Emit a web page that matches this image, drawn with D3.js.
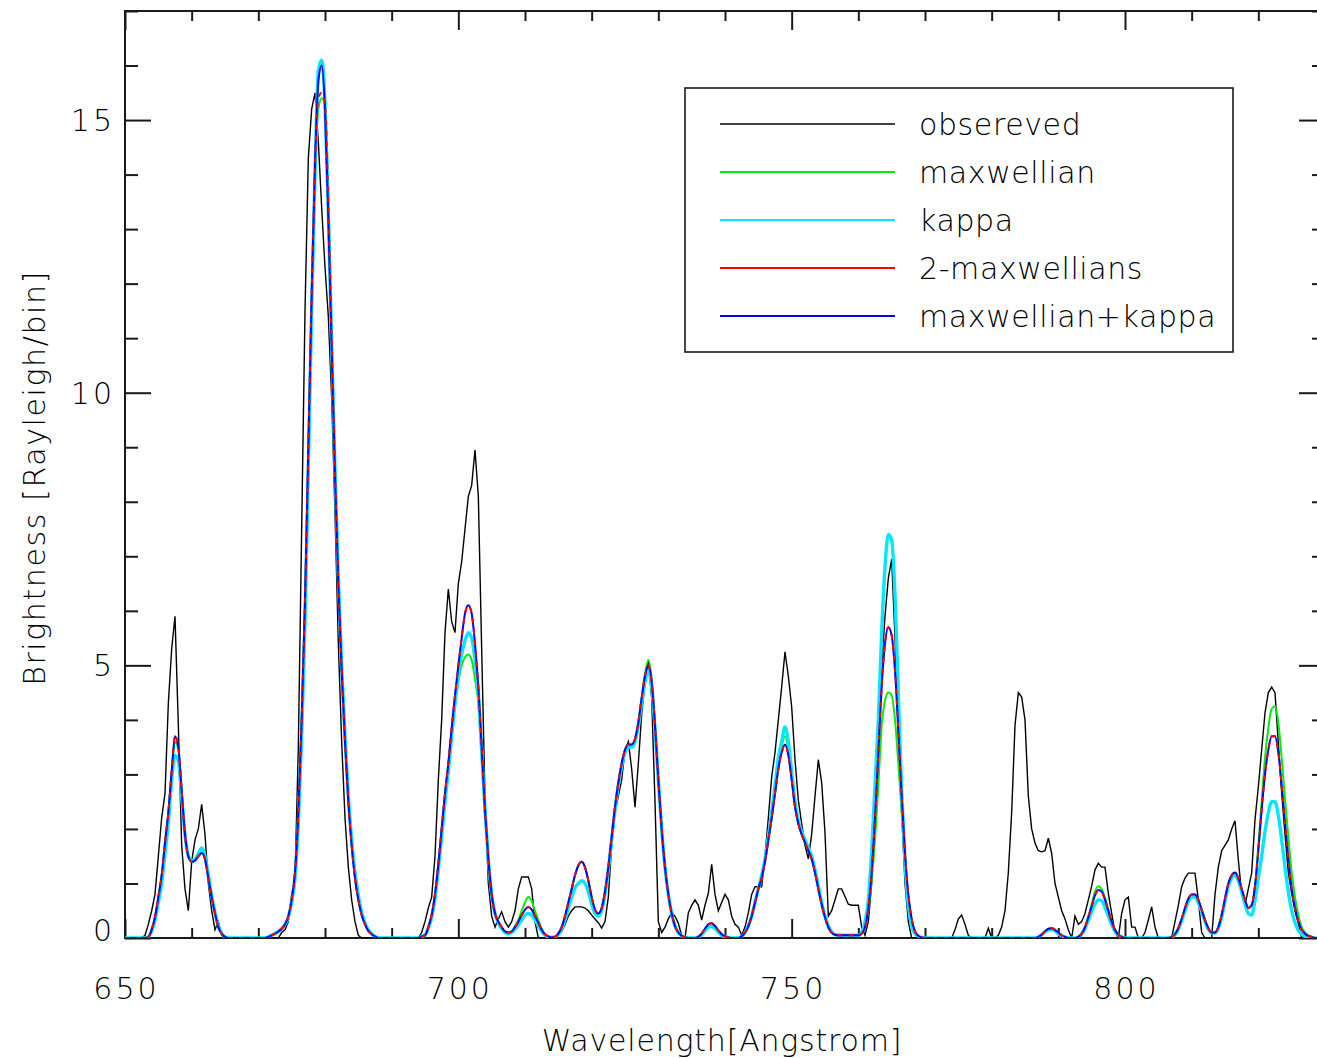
<!DOCTYPE html>
<html>
<head>
<meta charset="utf-8">
<script src="https://cdn.jsdelivr.net/npm/d3@7"></script>
<style>
  body { margin: 0; background: #fff; }
  svg { display: block; }
  text { font-family: "DejaVu Sans", sans-serif; font-weight: 200; fill: #000; }
</style>
</head>
<body>
<svg id="chart" width="1317" height="1058"></svg>
<script>
// Spectra sampled every 0.5 Angstrom from 650 to 830 Angstrom (Rayleigh/bin).
const wavelengthStart = 650;
const wavelengthStep = 0.5;

const observed = [
  0,0,0,0,0,0,0.05,0.25,0.5,0.8,1.5,2.2,2.65,4.3,5.3,5.9,3.9,1.7,0.9,0.5,
  1.4,1.8,2.0,2.45,1.9,1.0,0.5,0.15,0.3,0.05,0,0,0,0,0,0,0,0,0,0,
  0,0,0,0,0,0,0,0.1,0.15,0.3,0.8,1.1,3.5,7.5,11.5,14.3,15.2,15.5,14.6,13.4,
  12.3,11.4,9.9,7.8,5.4,3.6,2.2,1.3,0.7,0.3,0.05,0,0,0,0,0,0,0,0,0,
  0,0,0,0,0,0,0,0,0,0.1,0.3,0.55,0.75,1.5,2.9,4.0,5.6,6.4,5.8,5.6,
  6.5,6.9,7.5,8.1,8.3,8.95,8.1,5.3,2.6,1.0,0.4,0.2,0.35,0.48,0.3,0.2,0.3,0.5,0.9,1.12,
  1.12,1.12,0.9,0.3,0,0,0,0,0,0.02,0.05,0.12,0.25,0.4,0.5,0.57,0.57,0.57,0.55,0.5,
  0.42,0.35,0.28,0.18,0.3,0.75,1.7,2.3,2.6,2.9,3.45,3.6,3.1,2.4,3.2,4.1,4.7,5.1,4.4,2.5,
  0.3,0.1,0.2,0.35,0.46,0.4,0.27,0.05,0,0.46,0.6,0.7,0.6,0.33,0.6,0.82,1.35,0.8,0.5,0.65,
  0.8,0.7,0.4,0.25,0.2,0.05,0.2,0.46,0.8,0.94,0.94,0.94,1.5,2.2,2.95,3.4,4.0,4.6,5.25,4.8,
  4.24,3.27,2.53,2.1,1.7,1.45,1.9,2.6,3.27,2.85,1.93,0.4,0.5,0.7,0.9,0.9,0.76,0.62,0.6,0.6,
  0.6,0.2,0.05,0.3,1.0,2.3,3.76,5.0,5.9,6.6,6.95,5.5,3.8,2.3,1.0,0.3,0,0,0,0,
  0,0,0,0,0,0,0,0,0,0.15,0.35,0.42,0.25,0.05,0,0,0,0,0,0.18,
  0,0,0.05,0.2,0.5,1.2,2.3,3.9,4.5,4.42,4.0,2.6,2.0,1.74,1.6,1.58,1.6,1.83,1.55,1.0,
  0.75,0.5,0.35,0.15,0,0.4,0.25,0.3,0.45,0.7,0.95,1.25,1.37,1.3,1.3,0.82,0.45,0.1,0,0.45,
  0.7,0.75,0.2,0.2,0,0,0.1,0.33,0.57,0.2,0,0,0,0,0,0.3,0.6,0.94,1.1,1.19,
  1.19,1.19,0.7,0.1,0,0,0,0.8,1.3,1.6,1.7,1.8,2.0,2.15,1.43,0.82,0.6,0.9,1.19,2.17,
  2.77,3.45,4.13,4.5,4.6,4.5,3.57,2.66,1.9,1.2,0.82,0.5,0.27,0,0,0,0,0,0,0,
  0
];

const maxwellian = [
  0,0,0,0,0,0,0,0.02,0.15,0.38,0.75,1.15,1.75,2.3,3.0,3.6,3.45,2.7,1.9,1.5,
  1.4,1.42,1.5,1.56,1.45,1.1,0.75,0.45,0.2,0.08,0.02,0,0,0,0,0,0,0,0,0,
  0,0,0,0.02,0.05,0.08,0.12,0.17,0.25,0.4,0.7,1.2,2.3,4.0,6.1,8.8,11.6,13.9,15.2,15.4,
  15.3,13.6,11.1,8.7,6.6,5.0,3.7,2.6,1.75,1.15,0.72,0.44,0.26,0.14,0.07,0.03,0,0,0,0,
  0,0,0,0,0,0,0,0,0,0.03,0.05,0.2,0.42,0.8,1.35,2.0,2.65,3.2,3.8,4.3,
  4.7,5.0,5.15,5.2,5.1,4.75,4.3,3.3,2.25,1.4,0.8,0.45,0.3,0.2,0.12,0.1,0.12,0.22,0.33,0.5,
  0.65,0.75,0.68,0.5,0.33,0.17,0.07,0.03,0.01,0.02,0.08,0.2,0.4,0.65,0.9,1.15,1.33,1.4,1.3,1.05,
  0.75,0.52,0.45,0.55,0.85,1.3,1.85,2.4,2.85,3.2,3.45,3.55,3.55,3.65,3.95,4.4,4.85,5.1,4.75,3.9,
  2.9,2.0,1.3,0.8,0.45,0.22,0.1,0.04,0.01,0,0,0,0.02,0.08,0.17,0.25,0.27,0.22,0.14,0.07,
  0.03,0.01,0,0,0,0.03,0.1,0.22,0.4,0.65,0.9,1.1,1.4,1.8,2.2,2.65,3.1,3.5,3.7,3.45,
  2.95,2.45,2.1,1.9,1.75,1.6,1.45,1.2,0.9,0.62,0.38,0.2,0.1,0.06,0.05,0.05,0.05,0.05,0.05,0.05,
  0.05,0.08,0.2,0.5,1.05,1.8,2.8,3.9,4.35,4.5,4.45,4.0,3.2,2.3,1.4,0.75,0.33,0.12,0.04,0.01,
  0,0,0,0,0,0,0,0,0,0,0,0,0,0,0,0,0,0,0,0,
  0,0,0,0,0,0,0,0,0,0,0,0,0,0,0.02,0.06,0.12,0.17,0.18,0.15,
  0.1,0.05,0.02,0,0,0,0.02,0.08,0.2,0.4,0.62,0.85,0.95,0.9,0.74,0.52,0.3,0.15,0.06,0.02,
  0,0,0,0,0,0,0,0,0,0,0,0,0,0,0.02,0.07,0.18,0.35,0.55,0.72,
  0.8,0.8,0.7,0.52,0.33,0.18,0.1,0.1,0.2,0.42,0.72,1.0,1.15,1.2,1.1,0.9,0.7,0.55,0.6,0.95,
  1.7,2.5,3.3,3.85,4.2,4.25,3.95,3.3,2.55,1.85,1.2,0.75,0.42,0.2,0.1,0.05,0.02,0,0,0,
  0
];

const kappa = [
  0,0,0,0,0,0,0,0.02,0.13,0.33,0.65,1.0,1.55,2.1,2.9,3.35,3.25,2.6,1.9,1.5,
  1.42,1.45,1.55,1.65,1.5,1.15,0.78,0.47,0.22,0.09,0.02,0,0,0,0,0,0,0,0,0,
  0,0,0,0.02,0.05,0.08,0.12,0.17,0.25,0.38,0.65,1.1,2.1,3.7,5.8,8.6,11.5,14.0,15.9,16.1,
  15.3,13.3,10.9,8.6,6.6,5.0,3.7,2.6,1.8,1.2,0.78,0.48,0.28,0.15,0.08,0.03,0,0,0,0,
  0,0,0,0,0,0,0,0,0,0.03,0.05,0.18,0.38,0.72,1.25,1.85,2.5,3.05,3.7,4.3,
  4.8,5.2,5.45,5.6,5.5,5.1,4.5,3.45,2.35,1.45,0.8,0.45,0.28,0.18,0.1,0.08,0.1,0.16,0.24,0.33,
  0.42,0.45,0.42,0.33,0.22,0.12,0.05,0.02,0.01,0.02,0.07,0.17,0.33,0.55,0.75,0.92,1.0,1.05,1.0,0.85,
  0.62,0.45,0.4,0.5,0.8,1.25,1.8,2.35,2.8,3.15,3.4,3.5,3.5,3.6,3.9,4.3,4.7,4.9,4.6,3.85,
  2.9,2.0,1.3,0.8,0.45,0.22,0.1,0.04,0.01,0,0,0,0.02,0.06,0.13,0.2,0.21,0.17,0.11,0.05,
  0.02,0.01,0,0,0,0.03,0.1,0.22,0.4,0.65,0.9,1.15,1.45,1.85,2.3,2.8,3.3,3.6,3.87,3.6,
  3.05,2.5,2.15,1.95,1.8,1.65,1.5,1.25,0.95,0.65,0.4,0.22,0.11,0.06,0.05,0.05,0.05,0.05,0.05,0.05,
  0.05,0.1,0.3,0.7,1.6,2.8,4.0,5.6,6.8,7.4,7.3,6.3,4.5,2.7,1.4,0.6,0.22,0.08,0.03,0.01,
  0,0,0,0,0,0,0,0,0,0,0,0,0,0,0,0,0,0,0,0,
  0,0,0,0,0,0,0,0,0,0,0,0,0,0,0.02,0.06,0.11,0.15,0.16,0.13,
  0.08,0.04,0.02,0,0,0,0.02,0.07,0.17,0.32,0.48,0.62,0.7,0.68,0.56,0.4,0.24,0.12,0.05,0.02,
  0,0,0,0,0,0,0,0,0,0,0,0,0,0,0.02,0.06,0.16,0.32,0.5,0.67,
  0.75,0.75,0.65,0.48,0.3,0.16,0.09,0.09,0.18,0.38,0.68,0.95,1.1,1.15,1.05,0.85,0.62,0.45,0.42,0.7,
  1.1,1.5,1.95,2.3,2.5,2.5,2.25,1.8,1.3,0.85,0.5,0.28,0.14,0.07,0.03,0.01,0,0,0,0,
  0
];

const twoMaxwellians = [
  0,0,0,0,0,0,0,0.02,0.15,0.38,0.75,1.15,1.75,2.3,3.05,3.72,3.5,2.7,1.9,1.5,
  1.4,1.42,1.5,1.56,1.45,1.1,0.75,0.45,0.2,0.08,0.02,0,0,0,0,0,0,0,0,0,
  0,0,0,0.02,0.05,0.08,0.12,0.17,0.25,0.4,0.7,1.2,2.3,4.0,6.2,9.0,11.8,14.1,15.4,15.5,
  15.3,13.5,11.0,8.6,6.5,4.9,3.6,2.5,1.7,1.1,0.7,0.42,0.25,0.13,0.07,0.03,0,0,0,0,
  0,0,0,0,0,0,0,0,0,0.03,0.05,0.2,0.42,0.8,1.35,2.0,2.65,3.2,3.85,4.45,
  5.0,5.5,5.95,6.1,5.95,5.4,4.6,3.5,2.35,1.45,0.8,0.45,0.3,0.2,0.12,0.1,0.12,0.2,0.3,0.42,
  0.52,0.57,0.52,0.4,0.28,0.15,0.07,0.03,0.01,0.02,0.08,0.2,0.4,0.65,0.9,1.15,1.33,1.4,1.3,1.05,
  0.75,0.52,0.45,0.55,0.85,1.3,1.85,2.4,2.85,3.2,3.45,3.55,3.55,3.65,3.95,4.4,4.8,5.0,4.7,3.9,
  2.9,2.0,1.3,0.8,0.45,0.22,0.1,0.04,0.01,0,0,0,0.02,0.08,0.17,0.25,0.27,0.22,0.14,0.07,
  0.03,0.01,0,0,0,0.03,0.1,0.22,0.4,0.65,0.9,1.1,1.4,1.8,2.2,2.65,3.1,3.4,3.55,3.35,
  2.9,2.4,2.1,1.9,1.75,1.6,1.45,1.2,0.9,0.62,0.38,0.2,0.1,0.06,0.05,0.05,0.05,0.05,0.05,0.05,
  0.05,0.08,0.2,0.55,1.2,2.2,3.4,4.6,5.4,5.7,5.55,4.9,3.8,2.6,1.55,0.8,0.35,0.12,0.04,0.01,
  0,0,0,0,0,0,0,0,0,0,0,0,0,0,0,0,0,0,0,0,
  0,0,0,0,0,0,0,0,0,0,0,0,0,0,0.02,0.06,0.12,0.17,0.18,0.15,
  0.1,0.05,0.02,0,0,0,0.02,0.08,0.2,0.38,0.58,0.78,0.88,0.85,0.7,0.5,0.3,0.15,0.06,0.02,
  0,0,0,0,0,0,0,0,0,0,0,0,0,0,0.02,0.07,0.18,0.35,0.55,0.72,
  0.8,0.8,0.7,0.52,0.33,0.18,0.1,0.1,0.2,0.42,0.72,1.0,1.15,1.2,1.1,0.9,0.7,0.55,0.6,0.95,
  1.6,2.35,3.0,3.45,3.7,3.7,3.4,2.8,2.1,1.45,0.9,0.55,0.3,0.15,0.08,0.04,0.02,0,0,0,
  0
];

const maxwellianPlusKappa = [
  0,0,0,0,0,0,0,0.02,0.15,0.38,0.75,1.15,1.75,2.3,3.05,3.7,3.5,2.7,1.9,1.5,
  1.4,1.42,1.5,1.56,1.45,1.1,0.75,0.45,0.2,0.08,0.02,0,0,0,0,0,0,0,0,0,
  0,0,0,0.02,0.05,0.08,0.12,0.17,0.25,0.4,0.7,1.2,2.3,4.0,6.2,9.0,11.8,14.2,15.7,16.0,
  15.2,13.2,10.8,8.5,6.5,4.9,3.6,2.5,1.7,1.1,0.7,0.42,0.25,0.13,0.07,0.03,0,0,0,0,
  0,0,0,0,0,0,0,0,0,0.03,0.05,0.2,0.42,0.8,1.35,2.0,2.65,3.2,3.85,4.45,
  5.0,5.5,5.95,6.1,5.95,5.4,4.6,3.5,2.35,1.45,0.8,0.45,0.3,0.2,0.12,0.1,0.12,0.2,0.3,0.42,
  0.52,0.57,0.52,0.4,0.28,0.15,0.07,0.03,0.01,0.02,0.08,0.2,0.4,0.65,0.9,1.15,1.33,1.4,1.3,1.05,
  0.75,0.52,0.45,0.55,0.85,1.3,1.85,2.4,2.85,3.2,3.45,3.55,3.55,3.65,3.95,4.4,4.8,5.0,4.7,3.9,
  2.9,2.0,1.3,0.8,0.45,0.22,0.1,0.04,0.01,0,0,0,0.02,0.08,0.17,0.25,0.27,0.22,0.14,0.07,
  0.03,0.01,0,0,0,0.03,0.1,0.22,0.4,0.65,0.9,1.1,1.4,1.8,2.2,2.65,3.1,3.4,3.55,3.35,
  2.9,2.4,2.1,1.9,1.75,1.6,1.45,1.2,0.9,0.62,0.38,0.2,0.1,0.06,0.05,0.05,0.05,0.05,0.05,0.05,
  0.05,0.08,0.2,0.55,1.2,2.2,3.4,4.6,5.4,5.7,5.55,4.9,3.8,2.6,1.55,0.8,0.35,0.12,0.04,0.01,
  0,0,0,0,0,0,0,0,0,0,0,0,0,0,0,0,0,0,0,0,
  0,0,0,0,0,0,0,0,0,0,0,0,0,0,0.02,0.06,0.12,0.17,0.18,0.15,
  0.1,0.05,0.02,0,0,0,0.02,0.08,0.2,0.38,0.58,0.78,0.88,0.85,0.7,0.5,0.3,0.15,0.06,0.02,
  0,0,0,0,0,0,0,0,0,0,0,0,0,0,0.02,0.07,0.18,0.35,0.55,0.72,
  0.8,0.8,0.7,0.52,0.33,0.18,0.1,0.1,0.2,0.42,0.72,1.0,1.15,1.2,1.1,0.9,0.7,0.55,0.6,0.95,
  1.6,2.35,3.0,3.45,3.7,3.7,3.4,2.8,2.1,1.45,0.9,0.55,0.3,0.15,0.08,0.04,0.02,0,0,0,
  0
];

const seriesNames = ["obsereved", "maxwellian", "kappa", "2-maxwellians", "maxwellian+kappa"];
const seriesColors = ["#000000", "#00ee00", "#00e8ff", "#ff0000", "#0000ff"];

const xTickLabels = [650, 700, 750, 800];
const yTickLabels = [0, 5, 10, 15];

const xLabel = "Wavelength[Angstrom]";
const yLabel = "Brightness [Rayleigh/bin]";

// ---- layout ----
const svg = d3.select("#chart");
const plotLeft = 125, plotRight = 1325, plotTop = 11, plotBottom = 938;
const x = d3.scaleLinear().domain([650, 830]).range([plotLeft, plotRight]);
const y = d3.scaleLinear().domain([0, 17]).range([plotBottom, plotTop]);

const axisColor = "#1a1a1a";
const fontSize = 30;

// Plot frame
svg.append("rect")
  .attr("x", plotLeft).attr("y", plotTop)
  .attr("width", plotRight - plotLeft).attr("height", plotBottom - plotTop)
  .attr("fill", "none").attr("stroke", axisColor).attr("stroke-width", 2);

const xMinor = d3.range(650, 831, 10).filter(v => !xTickLabels.includes(v));
const yMinor = d3.range(0, 18, 1).filter(v => !yTickLabels.includes(v));

function tickGroup(axis, transform) {
  const g = svg.append("g").attr("transform", transform).call(axis);
  g.select(".domain").remove();
  g.selectAll("text").remove();
  g.selectAll("line").attr("stroke", axisColor).attr("stroke-width", 2);
  return g;
}

// Inward ticks on all four sides
tickGroup(d3.axisBottom(x).tickValues(xTickLabels).tickSize(-19), `translate(0,${plotBottom})`);
tickGroup(d3.axisBottom(x).tickValues(xMinor).tickSize(-10), `translate(0,${plotBottom})`);
tickGroup(d3.axisTop(x).tickValues(xTickLabels).tickSize(-19), `translate(0,${plotTop})`);
tickGroup(d3.axisTop(x).tickValues(xMinor).tickSize(-10), `translate(0,${plotTop})`);
tickGroup(d3.axisLeft(y).tickValues(yTickLabels).tickSize(-26), `translate(${plotLeft},0)`);
tickGroup(d3.axisLeft(y).tickValues(yMinor).tickSize(-13), `translate(${plotLeft},0)`);
tickGroup(d3.axisRight(y).tickValues(yTickLabels).tickSize(-26), `translate(${plotRight},0)`);
tickGroup(d3.axisRight(y).tickValues(yMinor).tickSize(-13), `translate(${plotRight},0)`);

// Tick labels
svg.append("g").selectAll("text").data(xTickLabels).join("text")
  .attr("x", d => x(d) + 1.5).attr("y", plotBottom + 61)
  .attr("text-anchor", "middle")
  .style("font-size", fontSize + "px").style("letter-spacing", "3px")
  .text(d => d);

svg.append("g").selectAll("text").data(yTickLabels).join("text")
  .attr("x", plotLeft - 10).attr("y", d => y(d) + 11 - (d === 0 ? 8 : 0))
  .attr("text-anchor", "end")
  .style("font-size", fontSize + "px").style("letter-spacing", "3px")
  .text(d => d);

// Axis titles
svg.append("text")
  .attr("x", 722).attr("y", 1051)
  .attr("text-anchor", "middle")
  .style("font-size", fontSize + "px").style("letter-spacing", "0.8px")
  .text(xLabel);

svg.append("text")
  .attr("transform", "translate(45,478) rotate(-90)")
  .attr("text-anchor", "middle")
  .style("font-size", fontSize + "px").style("letter-spacing", "1.6px")
  .text(yLabel);

// ---- spectra ----
const plot = svg.append("g");
plot.append("clipPath").attr("id", "plot-clip")
  .append("rect").attr("x", plotLeft).attr("y", plotTop)
  .attr("width", plotRight - plotLeft).attr("height", plotBottom - plotTop);
plot.attr("clip-path", "url(#plot-clip)");

const lam = i => wavelengthStart + i * wavelengthStep;
const observedLine = d3.line().x((d, i) => x(lam(i))).y(d => y(d)).curve(d3.curveLinear);
const modelLine = d3.line().x((d, i) => x(lam(i))).y(d => y(d)).curve(d3.curveMonotoneX);

plot.append("path").attr("d", observedLine(observed))
  .attr("fill", "none").attr("stroke", seriesColors[0]).attr("stroke-width", 1.4)
  .attr("stroke-linejoin", "miter");

plot.append("path").attr("d", modelLine(maxwellian))
  .attr("fill", "none").attr("stroke", seriesColors[1]).attr("stroke-width", 2);

plot.append("path").attr("d", modelLine(kappa))
  .attr("fill", "none").attr("stroke", seriesColors[2]).attr("stroke-width", 3.4);

plot.append("path").attr("d", modelLine(maxwellianPlusKappa))
  .attr("fill", "none").attr("stroke", seriesColors[4]).attr("stroke-width", 2);

// The two-Maxwellian fit nearly coincides with the Maxwellian+kappa fit,
// so it is stroked in short dashes to stay visible on top of it.
plot.append("path").attr("d", modelLine(twoMaxwellians))
  .attr("fill", "none").attr("stroke", seriesColors[3]).attr("stroke-width", 2)
  .attr("stroke-dasharray", "5 6");

// ---- legend ----
const legend = svg.append("g");
legend.append("rect")
  .attr("x", 685).attr("y", 88).attr("width", 548).attr("height", 264)
  .attr("fill", "#fff").attr("stroke", axisColor).attr("stroke-width", 1.6);

const rows = legend.selectAll("g.row").data(seriesNames).join("g")
  .attr("class", "row")
  .attr("transform", (d, i) => `translate(0,${124 + i * 48})`);

rows.append("line")
  .attr("x1", 720).attr("x2", 895).attr("y1", 0).attr("y2", 0)
  .attr("stroke", (d, i) => seriesColors[i]).attr("stroke-width", (d, i) => i === 0 ? 1.4 : 2);

rows.append("text")
  .attr("x", 919).attr("y", 11)
  .style("font-size", fontSize + "px").style("letter-spacing", "0.6px")
  .text(d => d);
</script>
</body>
</html>
